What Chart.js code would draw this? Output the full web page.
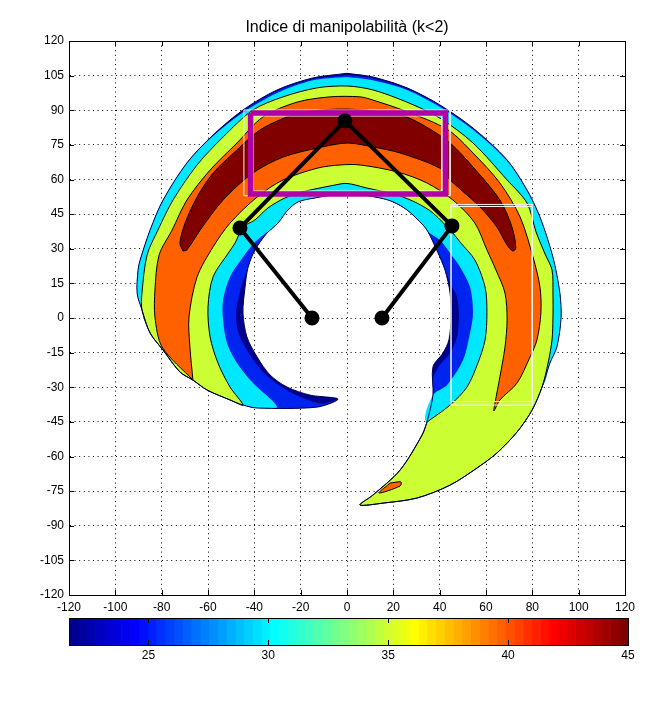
<!DOCTYPE html>
<html lang="en">
<head>
  <meta charset="UTF-8">
  <title>Indice di manipolabilità</title>
  <script src="https://cdn.jsdelivr.net/npm/chart.js"></script>
  <style>
    body { margin: 0; background: #fff; }
    #wrap { position: relative; width: 663px; height: 708px; overflow: hidden; }
    #wrap canvas { position: absolute; left: 0; }
  </style>
</head>
<body>
<div id="wrap">
  <canvas id="mainChart" width="663" height="708" style="top:0"></canvas>
  <canvas id="barChart" width="663" height="70" style="top:610px"></canvas>
</div>

<script>
const xTicks = [-120,-100,-80,-60,-40,-20,0,20,40,60,80,100,120];
const yTicks = [-120,-105,-90,-75,-60,-45,-30,-15,0,15,30,45,60,75,90,105,120];
const barTicks = [25,30,35,40,45];

// contour outlines, [x, y] in axis units
const rimTop = [[0,106],[11.2,104.4],[25.9,99.7],[40.1,92.3],[54.4,82.3],[69.1,68.5],[77.7,55.5],[83.3,43.8],[88.9,26.4],[91.9,10.8],[92.4,0],[90.6,-12.6],[87.6,-19.5],[84.2,-29.9]];
const rimTail = [[79.9,-39.9],[73.4,-49.4],[64.7,-58.5],[56.1,-65],[44.5,-72.4],[30.2,-78],[15.5,-80.2],[5.6,-81],[11.2,-76.7],[22.9,-65.9],[32.4,-50.7],[34.5,-45.1]];
const holeArc = [[35,37.3],[32.8,40.3],[25.9,46.8],[19.9,50.3],[14.2,52],[0,54],[-13.8,52],[-21.1,50.3],[-25.5,46.8],[-29.8,41.1],[-34.5,36.8]];
const rimLeftLow = [[-44.9,-37.7],[-50.5,-35.5],[-60.4,-31.2],[-66.5,-26.9],[-72.1,-23.4],[-79.4,-13.9],[-85,-6.5],[-88.5,3.5]];
const rimLeftHigh = [[-90.6,10.8],[-90.2,20.8],[-89.3,25.1],[-85,38.1],[-79.4,51.1],[-69.1,67.2]];

const navyBand = [...rimTop, ...rimTail,
  [37.1,-33.4],[37.1,-21.2],[41.4,-15.2],[44,-9.5],[44.9,0.4],[44.5,10.8],[42.3,20.8],[39.3,28.2],
  ...holeArc,
  [-39.7,29.5],[-42.7,22],[-44,13.4],[-44.9,2.2],[-43.2,-8.2],[-38.8,-16.9],[-33.2,-24.7],[-25.9,-29.9],[-16,-33.4],[-3.9,-35.1],
  [-12.9,-38.6],[-38.8,-39],
  ...rimLeftLow, ...rimLeftHigh,
  [-57.8,79.3],[-44.9,90.1],[-30.2,98.8],[-14.7,104],[0,106]];

const blueBand = [[0,105.3],[11.2,103.9],[25.9,99.2],[40.1,92],[54.4,82],[69.1,68.3],[77.7,55.3],[83.3,43.6],[88.9,26.4],[91.9,10.8],[92.4,0],[90.6,-12.6],[87.6,-19.5],[84.2,-29.9],
  [60,-55],[34.5,-45.1],[37.1,-33.4],[37.1,-26],[40.1,-20.4],[44.5,-15.2],[47.5,-8.2],[48.3,0.4],[47.5,9.1],[44.5,15.2],[43.2,18.6],[39.3,28.2],
  ...holeArc,
  [-39.7,29.5],[-42.7,22],[-45.7,13.4],[-47,7.8],[-47.9,2.2],[-47,-6.1],[-43.2,-13.9],[-36.3,-23.4],[-27.6,-30.3],[-19,-34.7],[-10.4,-37.2],[-3.9,-35.1],
  [-12.9,-38.6],[-38.8,-39],
  ...rimLeftLow, ...rimLeftHigh,
  [-57.8,78.9],[-44.9,89.6],[-30.2,98.3],[-14.7,103.5],[0,105.3]];

const cyanBand = [[0,104.4],[11.2,103],[25.9,98.8],[40.1,91.4],[54.4,81.5],[69.1,68],[77.7,55],[83.3,43.3],[88.9,26.4],[91.9,10.8],[92.4,0],[90.6,-12.6],[87.6,-19.5],[84.2,-29.9],
  [60,-55],[34.5,-45.1],[37.1,-33.4],[43.2,-29],[50.1,-18.2],[53.1,-6.5],[54.4,2.2],[53.1,13.4],[48.8,22.1],[45.7,26.4],[40.1,33.8],
  ...holeArc,
  [-34.5,37.3],[-39.7,32.9],[-44.9,26.4],[-50.5,17.8],[-53.5,7.8],[-53.5,-0.9],[-51.8,-10.8],[-47.5,-19.5],[-40.6,-28.2],[-30.2,-38.6],[-38.8,-39],
  ...rimLeftLow, ...rimLeftHigh,
  [-57.8,78.8],[-44.9,89],[-30.2,97.5],[-14.7,103],[0,104.4]];

const limeBand = [[34.5,-45.1],[44.5,-37.7],[51.8,-29.9],[56.5,-19.5],[59.6,-9.5],[60.4,2.2],[59.6,13.4],[55.2,25.1],[48.8,32.9],[45.7,36.8],[37.1,45.5],[30.2,49.8],[21.6,53.3],[8.6,56.3],[0,58.3],[-5.2,57.6],[-19.4,54.6],[-26.8,52],[-34.1,47.7],[-39.7,42.5],[-44.9,39.4],[-48.3,32.5],[-50.9,28.6],[-57.8,17.8],[-60,4.8],[-59.1,-8.2],[-55.7,-19.5],[-50.5,-29.9],
  ...rimLeftLow,
  [-88.5,10.8],[-86.3,27.3],[-81.6,38.1],[-75.1,51.1],[-64.7,66.3],[-53.5,78.4],[-40.6,90.1],[-27.6,95.8],[-12.9,99.7],[0,100.5],[11.2,98.8],[25.9,93.5],[40.1,86.6],[54.4,75.8],[69.1,59.8],[77.7,49.8],[81.6,37.3],[85.5,27.7],[88.5,20.8],[88.9,10.8],[88.9,0],[88.5,-9.5],[86.8,-19.5],[84.2,-29.9],
  ...rimTail];

const orangeBand = [[-66.5,-26.9],[-79.8,-12.6],[-82.9,0.4],[-82.9,12.1],[-81.1,27.3],[-75.5,38.1],[-69.1,51.1],[-59.1,64.1],[-47.5,75.8],[-36.3,87.1],[-21.6,93.5],[-7.3,95.8],[5.6,95.8],[11.2,94.4],[25.9,89.4],[43.6,81.5],[54.4,71.5],[66,58.5],[74.7,43.8],[80.3,26.4],[83.3,13.4],[83.7,2.2],[82,-9.5],[79,-16.9],[73.4,-28.2],[66,-35.5],[63.4,-40.3],[63.9,-36.8],[66,-25.5],[68.2,-12.6],[69.1,-0.9],[68.2,10.8],[64.3,20.8],[60.4,29.5],[55.2,41.1],[45.7,51.1],[34.5,58.5],[21.6,63.3],[5.6,66.3],[-3,66.3],[-12.9,64.9],[-27.6,59.8],[-38.8,52.4],[-50.5,41.1],[-57.8,30.8],[-64.7,17.8],[-68.2,0.4],[-67.8,-12.6],[-66.5,-26.9]];

const orangeIsland = [[18.6,-71.5],[23.3,-71],[22.9,-72.8],[13.8,-75.8],[18.6,-71.5]];

const redBand = [[-70.8,29],[-72.1,32.5],[-69.9,41.1],[-64.7,52.4],[-57.8,62.8],[-47.5,72.8],[-37.5,81.5],[-25.9,87.1],[-17.3,89.4],[0,90.5],[22.9,88],[32.8,83.6],[44.5,75.8],[54.4,65.4],[66,51.1],[71.2,39.4],[72.9,30.3],[71.6,29],[69.1,31.6],[64.7,39.4],[57.4,48.1],[44.5,59.8],[40.1,64.9],[22.9,71.5],[11.2,74.1],[0,75.8],[-12.9,73.6],[-27.6,69.7],[-40.6,62.8],[-53.5,51.1],[-63.4,38.1],[-69.1,29.5],[-70.8,29]];

// robot arm and the rectangles over the contours
const armPoints = [[-15.1,0],[-46.2,39],[-0.9,85.4],[45.3,39.9],[15.1,0]];
const magentaRect = [[-41.6,88.8],[42.5,88.8],[42.5,53.7],[-41.6,53.7],[-41.6,88.8]];
const whiteRectOuter = [[-44.5,90.1],[44.5,90.1],[44.5,53],[-44.5,53],[-44.5,90.1]];
const whiteRectInner = [[-40.5,87.5],[41,87.5],[41,55],[-40.5,55],[-40.5,87.5]];
const whiteRectSideA = [[44.9,49.2],[80,49.2],[80,-37.7],[44.9,-37.7],[44.9,49.2]];
const whiteRectSideB = [[44.9,48.3],[80,48.3],[80,-36.2],[44.9,-36.2],[44.9,48.3]];

// colour bar
const barLevels = [21.69,22.06,22.43,22.79,23.16,23.52,23.88,24.25,24.61,24.98,25.34,25.70,26.07,26.43,26.80,27.16,27.52,27.89,28.25,28.62,28.98,29.34,29.71,30.07,30.44,30.80,31.16,31.53,31.89,32.26,32.62,32.98,33.35,33.71,34.08,34.44,34.80,35.17,35.53,35.90,36.26,36.62,36.99,37.35,37.72,38.08,38.44,38.81,39.17,39.54,39.90,40.26,40.63,40.99,41.36,41.72,42.08,42.45,42.81,43.18,43.54,43.90,44.27,44.63,45];
const barColors = ['#00008f','#00009f','#0000af','#0000bf','#0000cf','#0000df','#0000ef','#0000ff','#0010ff','#0020ff','#0030ff','#0040ff','#0050ff','#0060ff','#0070ff','#0080ff','#008fff','#009fff','#00afff','#00bfff','#00cfff','#00dfff','#00efff','#00ffff','#10ffef','#20ffdf','#30ffcf','#40ffbf','#50ffaf','#60ff9f','#70ff8f','#80ff80','#8fff70','#9fff60','#afff50','#bfff40','#cfff30','#dfff20','#efff10','#ffff00','#ffef00','#ffdf00','#ffcf00','#ffbf00','#ffaf00','#ff9f00','#ff8f00','#ff8000','#ff7000','#ff6000','#ff5000','#ff4000','#ff3000','#ff2000','#ff1000','#ff0000','#ef0000','#df0000','#cf0000','#bf0000','#af0000','#9f0000','#8f0000','#800000'];

const toXY = pts => pts.map(p => ({ x: p[0], y: p[1] }));
const fontFamily = '"Liberation Sans", Arial, sans-serif';
const smooth = 0.3;

function band(pts, color, line, order) {
  return {
    data: toXY(pts), showLine: true, fill: 'shape', backgroundColor: color,
    borderColor: line, borderWidth: 1, pointRadius: 0, tension: smooth, order: order
  };
}
function outline(pts, color, width, order, tension) {
  return {
    data: toXY(pts), showLine: true, fill: false, borderColor: color,
    borderWidth: width, pointRadius: 0, tension: tension || 0, borderJoinStyle: 'miter', order: order
  };
}

// inward ticks and the closed box round the axes
const boxTicks = {
  id: 'boxTicks',
  afterDraw(chart) {
    const { ctx, chartArea: a, scales } = chart;
    const len = 5;
    ctx.save();
    ctx.strokeStyle = '#000';
    ctx.lineWidth = 1;
    ctx.beginPath();
    scales.x.ticks.forEach(t => {
      const px = Math.round(scales.x.getPixelForValue(t.value)) + 0.5;
      ctx.moveTo(px, a.top); ctx.lineTo(px, a.top + len);
      ctx.moveTo(px, a.bottom); ctx.lineTo(px, a.bottom - len);
    });
    if (scales.y.type === 'linear') {
      scales.y.ticks.forEach(t => {
        const py = Math.round(scales.y.getPixelForValue(t.value)) + 0.5;
        ctx.moveTo(a.left, py); ctx.lineTo(a.left + len, py);
        ctx.moveTo(a.right, py); ctx.lineTo(a.right - len, py);
      });
    }
    ctx.stroke();
    ctx.strokeRect(a.left + 0.5, a.top + 0.5, a.right - a.left, a.bottom - a.top);
    ctx.restore();
  }
};

new Chart(document.getElementById('mainChart'), {
  type: 'scatter',
  plugins: [boxTicks],
  data: {
    datasets: [
      band(navyBand, '#00008f', 'rgba(0,0,0,0)', 20),
      band(blueBand, '#0024f0', 'rgba(0,0,0,0)', 19),
      band(cyanBand, '#00e8ff', 'rgba(0,0,0,0)', 18),
      band(limeBand, '#ccff33', '#000', 17),
      band(orangeBand, '#ff6000', '#000', 16),
      band(orangeIsland, '#ff6000', '#000', 15),
      band(redBand, '#800000', '#000', 14),
      outline(navyBand, '#000050', 1, 13.5, smooth),
      outline(whiteRectOuter, '#f4f4e8', 1, 13),
      outline(whiteRectInner, '#f4f4e8', 1, 12),
      outline(whiteRectSideA, '#f4f4e8', 1, 11),
      outline(whiteRectSideB, '#f4f4e8', 1, 10),
      outline(magentaRect, '#b000a8', 5.5, 9),
      {
        data: toXY(armPoints), showLine: true, fill: false, borderColor: '#000', borderWidth: 4,
        pointRadius: 5.5, pointBackgroundColor: '#000', pointBorderColor: '#000', tension: 0, order: 1
      }
    ]
  },
  options: {
    responsive: false,
    animation: false,
    layout: { autoPadding: false, padding: { left: 19, right: 38, top: 0, bottom: 83 } },
    plugins: {
      legend: { display: false },
      tooltip: { enabled: false },
      title: {
        display: true,
        text: 'Indice di manipolabilità (k<2)',
        fullSize: false,
        color: '#000',
        font: { family: fontFamily, size: 16, weight: 'normal', lineHeight: 1.2 },
        padding: { top: 17.5, bottom: 4.3 }
      }
    },
    scales: {
      x: {
        type: 'linear', min: -120, max: 120,
        afterBuildTicks: s => { s.ticks = xTicks.map(v => ({ value: v })); },
        afterFit: s => { s.height = 30; },
        grid: { color: '#000', drawTicks: false, lineWidth: 1 },
        border: { color: '#000', dash: [1, 3.6] },
        ticks: { color: '#000', padding: 5, maxRotation: 0, autoSkip: false, font: { family: fontFamily, size: 12 } }
      },
      y: {
        type: 'linear', min: -120, max: 120,
        afterBuildTicks: s => { s.ticks = yTicks.map(v => ({ value: v })); },
        afterFit: s => { s.width = 50; },
        grid: { color: '#000', drawTicks: false, lineWidth: 1 },
        border: { color: '#000', dash: [1, 3.6] },
        ticks: { color: '#000', padding: 5, autoSkip: false, font: { family: fontFamily, size: 12 } }
      }
    }
  }
});

new Chart(document.getElementById('barChart'), {
  type: 'bar',
  plugins: [boxTicks],
  data: {
    labels: ['indice'],
    datasets: barColors.map((c, i) => ({
      data: [[barLevels[i], barLevels[i + 1]]],
      backgroundColor: c,
      grouped: false,
      barPercentage: 1,
      categoryPercentage: 1
    }))
  },
  options: {
    indexAxis: 'y',
    responsive: false,
    animation: false,
    layout: { autoPadding: false, padding: { left: 69, right: 35, top: 8, bottom: 0 } },
    plugins: { legend: { display: false }, tooltip: { enabled: false } },
    scales: {
      x: {
        type: 'linear', min: 21.69, max: 45,
        afterBuildTicks: s => { s.ticks = barTicks.map(v => ({ value: v })); },
        afterFit: s => { s.height = 35; },
        grid: { display: false, drawTicks: false },
        border: { display: false },
        ticks: { color: '#000', padding: 3, maxRotation: 0, autoSkip: false, font: { family: fontFamily, size: 12 } }
      },
      y: { display: false }
    }
  }
});
</script>
</body>
</html>
